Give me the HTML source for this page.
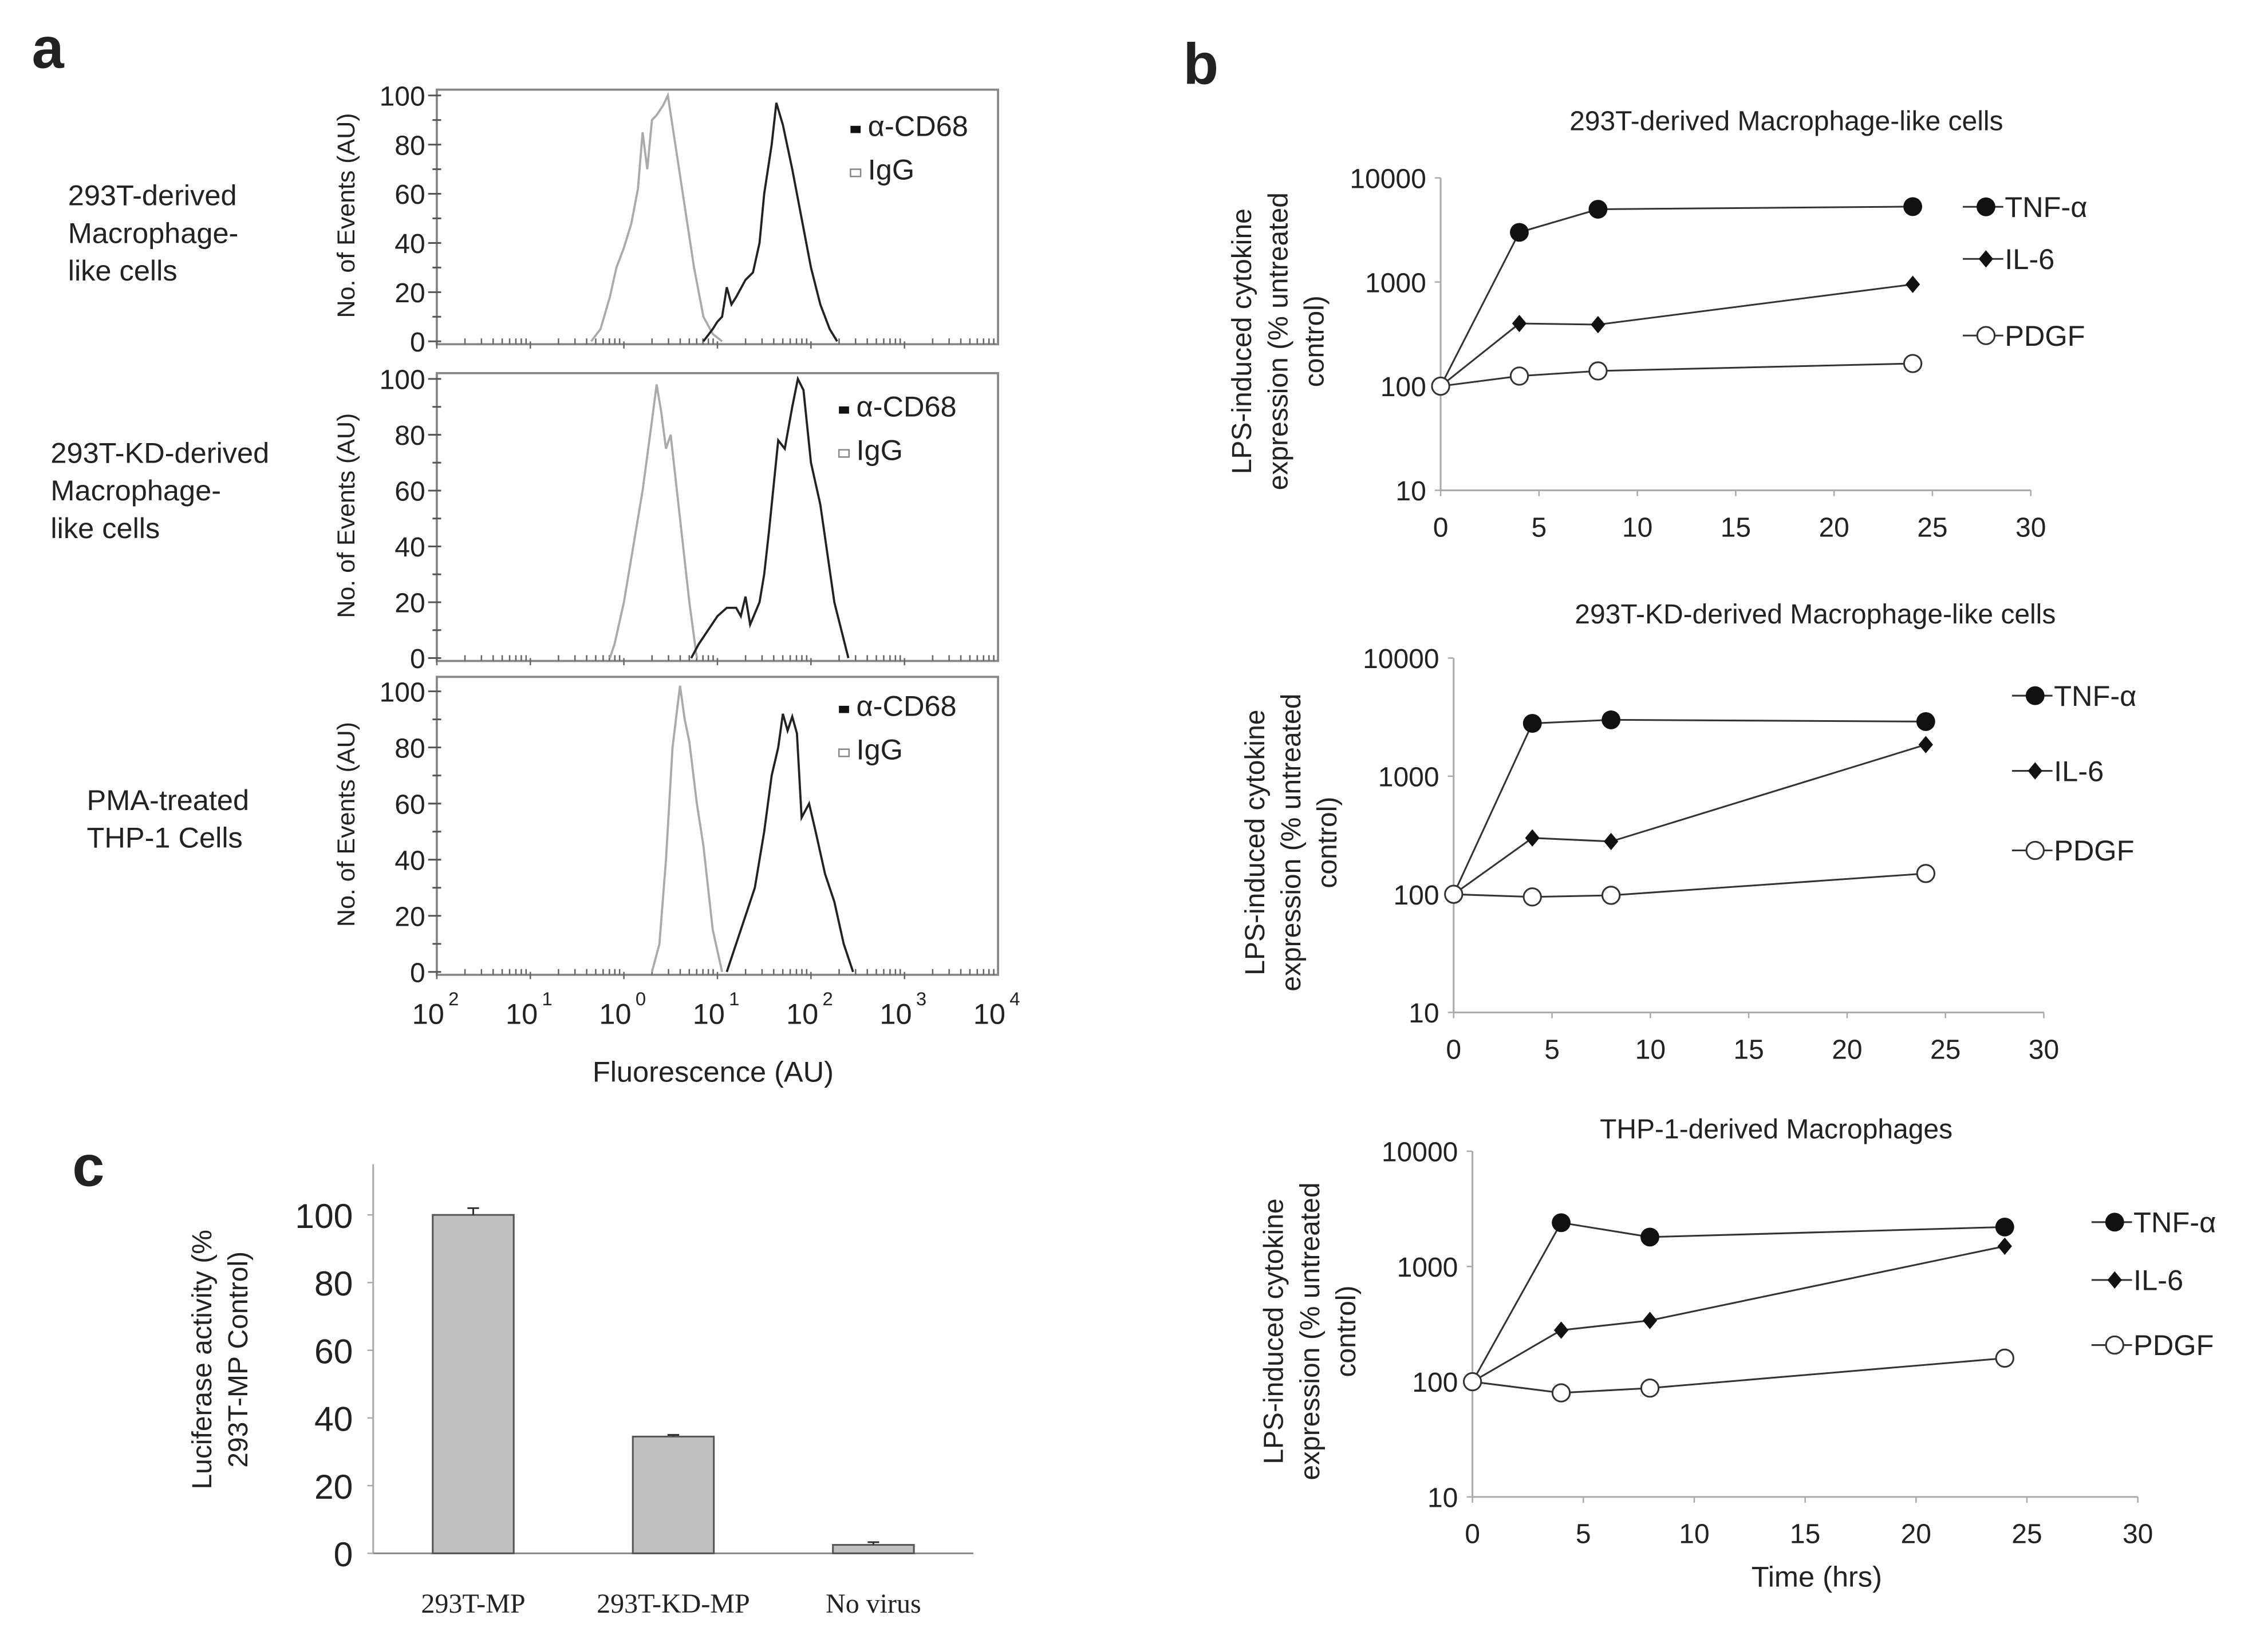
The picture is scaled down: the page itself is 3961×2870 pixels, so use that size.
<!DOCTYPE html>
<html><head><meta charset="utf-8"><style>
html,body{margin:0;padding:0;background:#fff;}
svg{display:block;}
text{font-family:"Liberation Sans",sans-serif;fill:#222;}
</style></head><body>
<svg id="fig" width="3961" height="2870" viewBox="0 0 1568 1136" preserveAspectRatio="none" xmlns="http://www.w3.org/2000/svg">
<rect width="1568" height="1136" fill="#fff"/>
<g id="g"></g>
</svg>
<script>
// ---- Panel a: histogram data (log10 fluorescence, count) ----
const h1IgG_x=[-0.35,-0.25,-0.15,-0.08,0.0,0.08,0.15,0.2,0.25,0.3,0.35,0.42,0.47,0.55,0.65,0.75,0.85,0.95,1.05];
const h1IgG_y=[0,5,18,30,38,48,62,85,70,90,92,96,100,80,55,30,10,3,0];
const h1CD_x=[0.85,0.95,1.0,1.05,1.1,1.15,1.2,1.3,1.38,1.45,1.5,1.58,1.63,1.7,1.8,1.9,2.0,2.1,2.2,2.28];
const h1CD_y=[0,5,8,10,22,15,18,25,28,40,60,80,97,88,70,50,30,15,5,0];
const h2IgG_x=[-0.15,-0.1,0.0,0.1,0.2,0.3,0.35,0.4,0.45,0.5,0.6,0.7,0.78];
const h2IgG_y=[0,5,20,40,60,85,98,88,75,80,50,20,0];
const h2CD_x=[0.72,0.8,0.9,1.0,1.1,1.2,1.25,1.3,1.35,1.45,1.5,1.55,1.65,1.72,1.8,1.86,1.92,2.0,2.1,2.25,2.4];
const h2CD_y=[0,5,10,15,18,18,15,22,12,20,30,45,78,75,90,100,96,70,55,20,0];
const h3IgG_x=[0.3,0.38,0.45,0.52,0.6,0.65,0.7,0.78,0.85,0.95,1.05];
const h3IgG_y=[0,10,40,80,102,90,82,60,45,15,0];
const h3CD_x=[1.1,1.15,1.22,1.3,1.4,1.5,1.58,1.65,1.7,1.75,1.8,1.85,1.9,1.98,2.05,2.15,2.25,2.35,2.45];
const h3CD_y=[0,5,12,20,30,50,70,80,92,86,91,85,55,60,50,35,25,10,0];
// ---- Panel b data ----
const times=[0,4,8,24];
const b1TNF=[100,3000,5000,5300], b1IL6=[100,400,390,950], b1PDGF=[100,125,140,165];
const b2TNF=[100,2800,3000,2900], b2IL6=[100,300,280,1850], b2PDGF=[100,95,98,150];
const b3TNF=[100,2400,1800,2200], b3IL6=[100,280,340,1500], b3PDGF=[100,80,88,160];
const logTicks=[10,100,1000,10000];
const timeTicks=[0,5,10,15,20,25,30];
// ---- Panel c data ----
const cCats=["293T-MP","293T-KD-MP","No virus"];
const cVals=[100,34.5,2.5];
const cErr=[2,0.5,0.8];
const cTicks=[0,20,40,60,80,100];

const NS="http://www.w3.org/2000/svg";
const G=document.getElementById('g');
function el(tag,attrs,txt){const e=document.createElementNS(NS,tag);for(const k in attrs)e.setAttribute(k,attrs[k]);if(txt!==undefined)e.textContent=txt;G.appendChild(e);return e;}

let t=el('text',{x:22,y:47,'font-size':40,'font-weight':'bold',fill:'#000'},'a');


t=el('text',{x:818,y:58,'font-size':40,'font-weight':'bold',fill:'#000'},'b');


t=el('text',{x:50,y:820,'font-size':40,'font-weight':'bold',fill:'#000'},'c');



// ---- Panel a ----
const ax0=302, ax1=690, dec=(ax1-ax0)/6;
const fx=l=>ax0+(l+2)*dec;
const hists=[
 {top:62,y0:236,y100:66,label:["293T-derived","Macrophage-","like cells"],lx:47,ly:142,ig:[h1IgG_x,h1IgG_y],cd:[h1CD_x,h1CD_y],leg:[588,93],name:'hist-293t'},
 {top:258,y0:455,y100:262,label:["293T-KD-derived","Macrophage-","like cells"],lx:35,ly:320,ig:[h2IgG_x,h2IgG_y],cd:[h2CD_x,h2CD_y],leg:[580,287],name:'hist-293t-kd'},
 {top:468,y0:672,y100:478,label:["PMA-treated","THP-1  Cells"],lx:60,ly:560,ig:[h3IgG_x,h3IgG_y],cd:[h3CD_x,h3CD_y],leg:[580,494],name:'hist-thp1'}
];
hists.forEach((h,i)=>{
 const fy=v=>h.y0-(v/100)*(h.y0-h.y100);
 let r=el('rect',{x:ax0,y:h.top,width:ax1-ax0,height:h.y0-h.top+2,fill:'none',stroke:'#888','stroke-width':1.5});
 
 
 for(let v=0;v<=100;v+=10){
  let tk=el('line',{x1:ax0-(v%20?3:6),x2:ax0+3,y1:fy(v),y2:fy(v),stroke:'#555','stroke-width':1.2});
  
  
  if(v%20===0){let tl=el('text',{x:ax0-8,y:fy(v)+7,'font-size':19,'text-anchor':'end'},String(v));
   
   }
 }
 for(let d=-2;d<4;d++){for(let m=1;m<10;m++){const xx=fx(d+Math.log10(m));
  let tk=el('line',{x1:xx,x2:xx,y1:h.y0-(m===1?0:2),y2:h.y0+(m===1?5:2),stroke:'#666','stroke-width':1});
  
  }}
 let yt=el('text',{x:0,y:0,'font-size':17,'text-anchor':'middle',transform:`translate(245,${(h.top+h.y0)/2}) rotate(-90)`},'No. of Events (AU)');
 
 
 h.label.forEach((s,k)=>{let lt=el('text',{x:h.lx,y:h.ly+k*26,'font-size':20},s);
  
  });
 let p=el('polyline',{points:h.ig[0].map((x,k)=>fx(x)+','+fy(h.ig[1][k])).join(' '),fill:'none',stroke:'#aaa','stroke-width':1.5});
 
 
 p=el('polyline',{points:h.cd[0].map((x,k)=>fx(x)+','+fy(h.cd[1][k])).join(' '),fill:'none',stroke:'#222','stroke-width':1.5});
 
 
 let lm=el('rect',{x:h.leg[0],y:h.leg[1]-6,width:7,height:5,fill:'#111'});
 
 
 let lt=el('text',{x:h.leg[0]+12,y:h.leg[1]+1,'font-size':20},'α-CD68');
 
 
 lm=el('rect',{x:h.leg[0],y:h.leg[1]+24,width:7,height:5,fill:'#fff',stroke:'#888'});
 
 
 lt=el('text',{x:h.leg[0]+12,y:h.leg[1]+31,'font-size':20},'IgG');
 
 
});
for(let d=-2;d<=4;d++){
 let tl=el('text',{x:fx(d)-6,y:708,'font-size':20,'text-anchor':'middle'},'10');
 
 
 let sp=el('text',{x:fx(d)+8,y:695,'font-size':13},String(d<0?-d:d));
 
 
}
t=el('text',{x:493,y:748,'font-size':20,'text-anchor':'middle'},'Fluorescence (AU)');



// ---- Panel b ----
const lines=[
 {x0:996,x30:1404,y10:339,y10k:123,title:'293T-derived Macrophage-like cells',tx:1235,ty:90,TNF:b1TNF,IL6:b1IL6,PDGF:b1PDGF,lx:1373,ly:[143,179,232],name:'chart-293t'},
 {x0:1005,x30:1413,y10:700,y10k:455,title:'293T-KD-derived Macrophage-like cells',tx:1255,ty:431,TNF:b2TNF,IL6:b2IL6,PDGF:b2PDGF,lx:1407,ly:[481,533,588],name:'chart-293t-kd'},
 {x0:1018,x30:1478,y10:1035,y10k:796,title:'THP-1-derived Macrophages',tx:1228,ty:787,TNF:b3TNF,IL6:b3IL6,PDGF:b3PDGF,lx:1462,ly:[845,885,930],name:'chart-thp1'}
];
lines.forEach(c=>{
 const sx=v=>c.x0+v/30*(c.x30-c.x0);
 const sy=v=>c.y10-(Math.log10(v)-1)/3*(c.y10-c.y10k);
 let a=el('line',{x1:c.x0,x2:c.x0,y1:c.y10k,y2:c.y10,stroke:'#aaa','stroke-width':1.2});
 
 
 a=el('line',{x1:c.x0,x2:c.x30,y1:c.y10,y2:c.y10,stroke:'#aaa','stroke-width':1.2});
 
 
 logTicks.forEach(v=>{
  let tk=el('line',{x1:c.x0-4,x2:c.x0,y1:sy(v),y2:sy(v),stroke:'#aaa'});
  
  
  let tl=el('text',{x:c.x0-10,y:sy(v)+7,'font-size':19,'text-anchor':'end'},String(v));
  
  
 });
 timeTicks.forEach(v=>{
  let tk=el('line',{x1:sx(v),x2:sx(v),y1:c.y10,y2:c.y10+4,stroke:'#aaa'});
  
  
  let tl=el('text',{x:sx(v),y:c.y10+32,'font-size':19,'text-anchor':'middle'},String(v));
  
  
 });
 let tt=el('text',{x:c.tx,y:c.ty,'font-size':19,'text-anchor':'middle'},c.title);
 
 
 const cy=(c.y10+c.y10k)/2+5;
 ['LPS-induced cytokine','expression (% untreated','control)'].forEach((s,k)=>{
  let yt=el('text',{x:0,y:0,'font-size':19,'text-anchor':'middle',transform:`translate(${c.x0-131+k*25},${cy}) rotate(-90)`},s);
  
  
 });
 const ser=[['TNF',c.TNF,'TNF-α'],['IL6',c.IL6,'IL-6'],['PDGF',c.PDGF,'PDGF']];
 ser.forEach(([key,vals,lab],si)=>{
  let pl=el('polyline',{points:times.map((x,k)=>sx(x)+','+sy(vals[k])).join(' '),fill:'none',stroke:'#333','stroke-width':1.2});
  
  
  const mark=(x,y)=>{
   let m;
   if(key==='TNF') m=el('circle',{cx:x,cy:y,r:6.5,fill:'#111'});
   else if(key==='IL6') m=el('polygon',{points:`${x},${y-6} ${x+5},${y} ${x},${y+6} ${x-5},${y}`,fill:'#111'});
   else m=el('circle',{cx:x,cy:y,r:6,fill:'#fff',stroke:'#333','stroke-width':1.2});
   return m;
  };
  times.forEach((x,k)=>{const m=mark(sx(x),sy(vals[k]));
   
   });
  const ly=c.ly[si];
  let ll=el('line',{x1:c.lx-16,x2:c.lx+12,y1:ly,y2:ly,stroke:'#333','stroke-width':1.2});
  
  
  const m=mark(c.lx,ly);
  
  
  let lt=el('text',{x:c.lx+13,y:ly+7,'font-size':20},lab);
  
  
 });
});
t=el('text',{x:1256,y:1097,'font-size':20,'text-anchor':'middle'},'Time (hrs)');



// ---- Panel c ----
const cx0=258,cx1=673,cy0=1074,cy100=840;
const cyS=v=>cy0-v/100*(cy0-cy100);
let ca=el('line',{x1:cx0,x2:cx0,y1:805,y2:cy0,stroke:'#aaa','stroke-width':1.2});


ca=el('line',{x1:cx0,x2:cx1,y1:cy0,y2:cy0,stroke:'#888','stroke-width':1.2});


cTicks.forEach(v=>{
 let tk=el('line',{x1:cx0-4,x2:cx0,y1:cyS(v),y2:cyS(v),stroke:'#aaa'});
 
 
 let tl=el('text',{x:cx0-14,y:cyS(v)+9,'font-size':24,'text-anchor':'end'},String(v));
 
 
});
const bw=(cx1-cx0)/3;
cCats.forEach((c,i)=>{
 const xc=cx0+bw*(i+0.5);
 let b=el('rect',{x:xc-28,y:cyS(cVals[i]),width:56,height:cy0-cyS(cVals[i]),fill:'#c0c0c0',stroke:'#555','stroke-width':1.2});
 
 
 let e=el('line',{x1:xc,x2:xc,y1:cyS(cVals[i]),y2:cyS(cVals[i]+cErr[i]),stroke:'#333','stroke-width':1.2});
 
 
 e=el('line',{x1:xc-4,x2:xc+4,y1:cyS(cVals[i]+cErr[i]),y2:cyS(cVals[i]+cErr[i]),stroke:'#333','stroke-width':1.2});
 
 
 let tl=el('text',{x:xc,y:1115,'font-size':19,'text-anchor':'middle',style:'font-family:"Liberation Serif",serif'},c);
 
 
});
['Luciferase activity (%','293T-MP Control)'].forEach((s,k)=>{
 let yt=el('text',{x:0,y:0,'font-size':19,'text-anchor':'middle',transform:`translate(${146+k*25},940) rotate(-90)`},s);
 
 
});
</script>
</body></html>
